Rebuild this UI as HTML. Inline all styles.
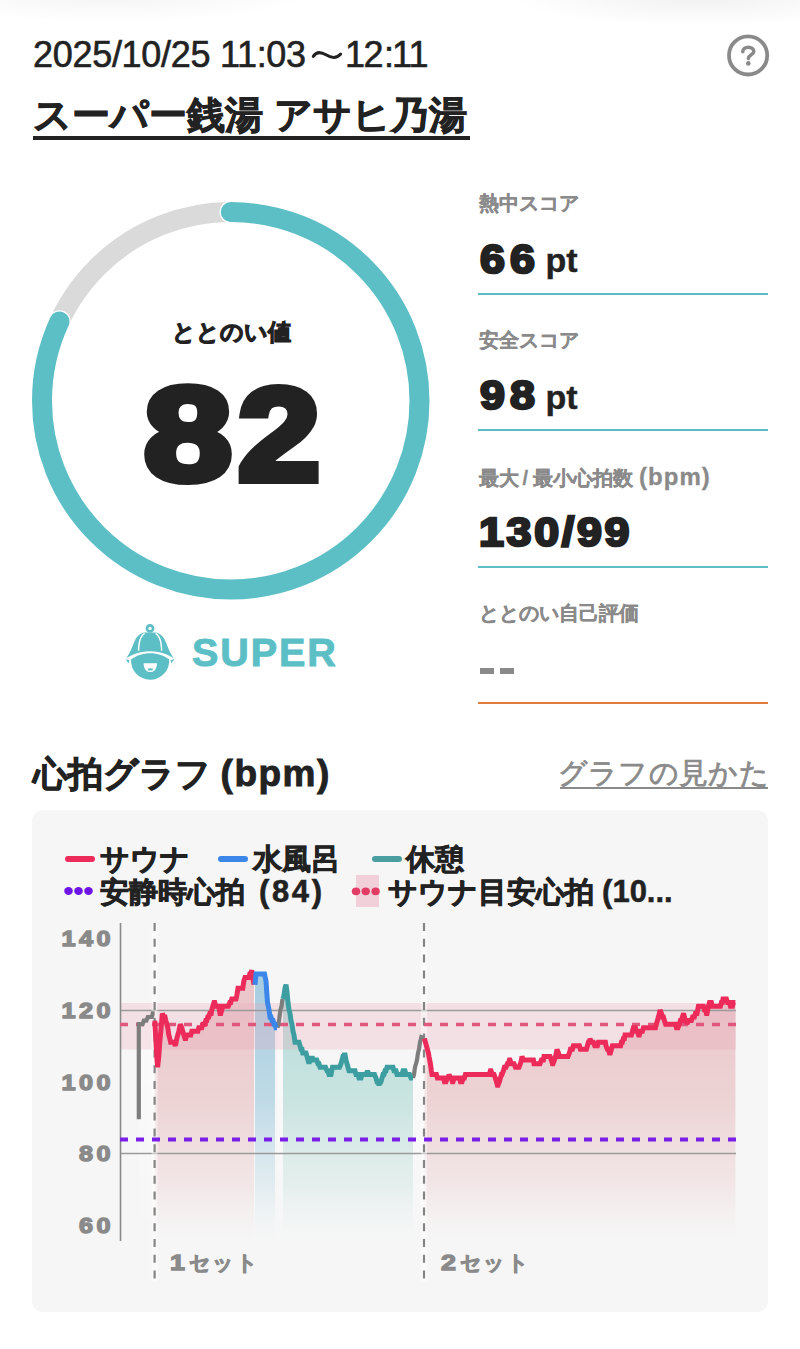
<!DOCTYPE html>
<html lang="ja">
<head>
<meta charset="utf-8">
<style>
*{margin:0;padding:0;box-sizing:border-box}
html,body{width:800px;height:1349px;background:#fff;overflow:hidden}
body{position:relative;font-family:"Liberation Sans",sans-serif;color:#222}
.a{position:absolute;white-space:nowrap}
#topshade{position:absolute;left:0;top:0;width:800px;height:60px;
 background:radial-gradient(ellipse 190px 28px at 700px -2px, rgba(0,0,0,0.055), rgba(0,0,0,0) 100%),
            radial-gradient(ellipse 200px 26px at 110px -4px, rgba(0,0,0,0.045), rgba(0,0,0,0) 100%);}
#date{left:33px;top:34px;font-size:36px;line-height:42px;color:#222;letter-spacing:-0.3px;-webkit-text-stroke:0.6px #222}
.d2{top:34px;font-size:36px;line-height:42px;color:#222;-webkit-text-stroke:0.6px #222}
#title{left:33px;top:92px;font-size:37.8px;line-height:46px;font-weight:bold;color:#222;-webkit-text-stroke:0.9px #222}
#uline{left:33px;top:136px;width:437px;height:4px;background:#222}
.lbl{left:479px;font-size:20px;line-height:24px;color:#8a8a8a;font-weight:bold;-webkit-text-stroke:0.3px #8a8a8a}
.hv{font-weight:bold;color:#222;line-height:1;transform-origin:0 0}
.val{left:480px;font-size:40px;-webkit-text-stroke:2.5px #222;transform:scaleX(1.12);letter-spacing:4.5px}
.pt{font-size:34px;font-weight:bold;line-height:1;color:#222;-webkit-text-stroke:0.4px #222}
.hr{left:478px;width:290px;height:2px;background:#5dbdc6}
#gh{left:33px;top:752px;font-size:34.5px;line-height:44px;font-weight:bold;color:#222;-webkit-text-stroke:0.9px #222}
#gh span{font-size:37px;letter-spacing:1.5px}
#gl{left:557.5px;top:755px;font-size:29.4px;letter-spacing:0.4px;line-height:36px;color:#8a8a8a;-webkit-text-stroke:0.8px #8a8a8a}
#glu{left:560px;top:787px;width:208px;height:2px;background:#8a8a8a}
#card{left:32px;top:810px;width:736px;height:502px;background:#f6f6f6;border-radius:11px}
.leg{font-size:29px;line-height:32px;font-weight:bold;color:#222;-webkit-text-stroke:0.8px #222}
.leg span{font-size:31px;-webkit-text-stroke:0.5px #222}
.yl{font-size:22.5px;line-height:1;font-weight:bold;color:#8a8a8a;-webkit-text-stroke:1.4px #8a8a8a;transform-origin:100% 0;transform:scaleX(1.12);text-align:right;width:70px;left:44px;letter-spacing:3.1px}
.xl{font-size:21px;line-height:24px;font-weight:bold;color:#8a8a8a;letter-spacing:1.2px;-webkit-text-stroke:0.8px #8a8a8a}
.xn{display:inline-block;font-size:22px;-webkit-text-stroke:1.3px #8a8a8a;transform:scaleX(1.22);transform-origin:0 0;margin-right:7.5px;letter-spacing:0}
</style>
</head>
<body>
<div id="topshade"></div>
<div class="a" id="date">2025/10/25 11:03</div><div class="a d2" style="left:345px">1</div><div class="a d2" style="left:363.4px">2</div><div class="a d2" style="left:384px">:</div><div class="a d2" style="left:392px">1</div><div class="a d2" style="left:408.5px">1</div>
<svg class="a" style="left:0;top:0" width="400" height="80"><path d="M313.3,56.4 C316,52 320,51.2 326,54.8 C332,58.6 336.5,58.8 340.7,54.1" fill="none" stroke="#222" stroke-width="3" stroke-linecap="round"/></svg>
<div class="a" id="title">スーパー銭湯 アサヒ乃湯</div>
<div class="a" id="uline"></div>
<svg class="a" style="left:0;top:0" width="800" height="720" viewBox="0 0 800 720">
 <circle cx="748.1" cy="55.4" r="19.1" fill="none" stroke="#8a8a8a" stroke-width="3.8"/>
 <path d="M742.8,51.8 C742.8,48.9 745.2,47.2 748.3,47.2 C751.5,47.2 753.8,49 753.8,51.5 C753.8,54.6 748.4,55 748.4,58.4" fill="none" stroke="#8a8a8a" stroke-width="3.5" stroke-linecap="round"/>
 <circle cx="748.3" cy="63.4" r="2.3" fill="#8a8a8a"/>
 <circle cx="230.75" cy="400.8" r="188.75" fill="none" stroke="#dadada" stroke-width="20"/>
 <circle cx="230.75" cy="400.8" r="188.75" fill="none" stroke="#fff" stroke-width="22.5" stroke-linecap="round"
   stroke-dasharray="971 2000" transform="rotate(-90 230.75 400.8)"/>
 <circle cx="230.75" cy="400.8" r="188.75" fill="none" stroke="#5cbfc6" stroke-width="20" stroke-linecap="round"
   stroke-dasharray="971 2000" transform="rotate(-90 230.75 400.8)"/>
</svg>
<div class="a" style="left:0;width:462px;text-align:center;top:318px;font-size:23px;line-height:28px;font-weight:bold;color:#222;-webkit-text-stroke:1.1px #222">ととのい値</div>
<div class="a hv" style="left:143.5px;top:369px;font-size:131.7px;-webkit-text-stroke:8px #222;transform:scaleX(1.2)">8</div>
<div class="a hv" style="left:238.1px;top:369px;font-size:131.7px;-webkit-text-stroke:8px #222;transform:scaleX(1.12)">2</div>
<!-- SUPER badge -->
<svg class="a" style="left:124px;top:622px" width="54" height="60" viewBox="0 0 54 60">
 <circle cx="26" cy="6.4" r="3.05" fill="none" stroke="#5cbfc6" stroke-width="2.7"/>
 <path d="M2.2,36.2 C5.5,32 7.8,26 9.8,21 C12,15.5 15.5,11 21,10.6 L31,10.6 C36.5,11 40,15.5 42.2,21 C44.2,26 46.5,32 49.8,36.2 C45,33.2 38,29.2 26.2,29.2 C14.5,29.2 7,33.2 2.2,36.2 Z" fill="#5cbfc6"/>
 <path d="M7,37.6 C12,33.6 19,31.2 26.2,31.2 C33.4,31.2 40.4,33.6 45.3,37.6 A19.2,19.2 0 0 1 26,57.7 A19.2,19.2 0 0 1 7,37.6 Z" fill="#5cbfc6"/>
 <path d="M1.6,37 L5.6,38.4 L4.4,41.2 Z M50.4,37 L46.4,38.4 L47.6,41.2 Z" fill="#5cbfc6"/>
 <path d="M20.6,11.4 C17.3,13.5 15.7,18 15.1,22 C14.7,25 14.6,27 14.6,28.8 M31.6,11.4 C34.9,13.5 36.5,18 37.1,22 C37.5,25 37.6,27 37.6,28.8" stroke="#fff" stroke-width="1.5" fill="none"/>
 <path d="M19.6,41.2 L33,41.2 C33,46.5 30.4,50 26.3,50 C22.2,50 19.6,46.5 19.6,41.2 Z" fill="#fff"/>
 <ellipse cx="26.3" cy="47.4" rx="2.7" ry="1.2" fill="#5cbfc6"/>
</svg>
<div class="a" style="left:192px;top:628px;font-size:39.5px;line-height:48px;font-weight:bold;color:#5cbfc6;-webkit-text-stroke:1px #5cbfc6;letter-spacing:1.9px">SUPER</div>

<!-- right column -->
<div class="a lbl" style="top:191px">熱中スコア</div>
<div class="a hv val" style="top:239px">66</div>
<div class="a pt" style="left:545.5px;top:243px">pt</div>
<div class="a hr" style="top:292.5px"></div>
<div class="a lbl" style="top:328px">安全スコア</div>
<div class="a hv val" style="top:375px">98</div>
<div class="a pt" style="left:545.5px;top:380px">pt</div>
<div class="a hr" style="top:429px"></div>
<div class="a lbl" style="top:465px">最大<span style="margin:0 5px 0 3.5px">/</span>最小心拍数<span style="font-size:24px;margin-left:6px;letter-spacing:1px">(bpm)</span></div>
<div class="a hv val" style="top:512px;left:479px;letter-spacing:2.4px">130/99</div>
<div class="a hr" style="top:565.5px"></div>
<div class="a lbl" style="top:601px">ととのい自己評価</div>
<div class="a" style="left:480px;top:668px;width:14px;height:6px;background:#8a8a8a"></div>
<div class="a" style="left:500px;top:668px;width:14px;height:6px;background:#8a8a8a"></div>
<div class="a hr" style="top:702px;background:#e07d3c"></div>

<!-- graph heading -->
<div class="a" id="gh">心拍グラフ <span>(bpm)</span></div>
<div class="a" id="gl">グラフの見かた</div>
<div class="a" id="glu"></div>

<div class="a" id="card"></div>

<!-- legend -->
<div class="a" style="left:64.5px;top:856px;width:30px;height:6px;border-radius:3px;background:#ec2b5b"></div>
<div class="a leg" style="left:100px;top:843px">サウナ</div>
<div class="a" style="left:217.5px;top:856px;width:30px;height:6px;border-radius:3px;background:#3b86e8"></div>
<div class="a leg" style="left:253px;top:843px">水風呂</div>
<div class="a" style="left:371.5px;top:856px;width:30px;height:6px;border-radius:3px;background:#4a9ea0"></div>
<div class="a leg" style="left:406px;top:843px">休憩</div>
<svg class="a" style="left:60px;top:884px" width="40" height="16"><g fill="#6e14e6"><ellipse cx="8.5" cy="7" rx="4.3" ry="4"/><ellipse cx="18.5" cy="7" rx="4.3" ry="4"/><ellipse cx="28.5" cy="7" rx="4.3" ry="4"/></g></svg>
<div class="a leg" style="left:100px;top:876px">安静時心拍 <span style="margin-left:6px;letter-spacing:2.6px">(84)</span></div>
<div class="a" style="left:356px;top:875px;width:23px;height:32px;background:#f2d0da"></div>
<svg class="a" style="left:348px;top:884px" width="40" height="16"><g fill="#e23c64"><ellipse cx="8" cy="7.3" rx="4.2" ry="3.9"/><ellipse cx="17.7" cy="7.3" rx="4.2" ry="3.9"/><ellipse cx="27.6" cy="7.3" rx="4.2" ry="3.9"/></g></svg>
<div class="a leg" style="left:388px;top:876px">サウナ目安心拍 <span>(10...</span></div>

<!-- y labels -->
<div class="a yl" style="top:928px">140</div>
<div class="a yl" style="top:999.8px">120</div>
<div class="a yl" style="top:1071.5px">100</div>
<div class="a yl" style="top:1143.3px">80</div>
<div class="a yl" style="top:1215px">60</div>
<div class="a xl" style="left:169.5px;top:1251px"><span class="xn">1</span>セット</div>
<div class="a xl" style="left:440.5px;top:1251px"><span class="xn">2</span>セット</div>

<svg class="a" style="left:0;top:0" width="800" height="1349" viewBox="0 0 800 1349">
 <defs>
  <linearGradient id="gr" x1="0" y1="960" x2="0" y2="1242" gradientUnits="userSpaceOnUse">
   <stop offset="0" stop-color="#e8b9be" stop-opacity="0.85"/>
   <stop offset="0.5" stop-color="#eac9cb" stop-opacity="0.78"/>
   <stop offset="0.8" stop-color="#eed6d8" stop-opacity="0.5"/>
   <stop offset="1" stop-color="#f3e6e7" stop-opacity="0"/>
  </linearGradient>
  <linearGradient id="gb" x1="0" y1="960" x2="0" y2="1242" gradientUnits="userSpaceOnUse">
   <stop offset="0" stop-color="#8fc0da" stop-opacity="0.8"/>
   <stop offset="0.5" stop-color="#a9cfe0" stop-opacity="0.72"/>
   <stop offset="0.8" stop-color="#c9e0ea" stop-opacity="0.45"/>
   <stop offset="1" stop-color="#dfeef5" stop-opacity="0"/>
  </linearGradient>
  <linearGradient id="gt" x1="0" y1="960" x2="0" y2="1242" gradientUnits="userSpaceOnUse">
   <stop offset="0" stop-color="#9fd3cf" stop-opacity="0.8"/>
   <stop offset="0.5" stop-color="#b8ddd9" stop-opacity="0.72"/>
   <stop offset="0.8" stop-color="#cfe6e3" stop-opacity="0.45"/>
   <stop offset="1" stop-color="#e4f1f0" stop-opacity="0"/>
  </linearGradient>
  <linearGradient id="gw" x1="0" y1="960" x2="0" y2="1242" gradientUnits="userSpaceOnUse">
   <stop offset="0" stop-color="#ffffff" stop-opacity="0.7"/>
   <stop offset="1" stop-color="#ffffff" stop-opacity="0"/>
  </linearGradient>
 </defs>
 <path d="M138.8,1240 L138.8,1119.3 L138.8,1119.3 L138.8,1025.5 L142.6,1023 L146.4,1019 L150,1016 L154.6,1014 L154.6,1014 L154.6,1240 Z" fill="url(#gw)"/>
 <path d="M277.5,1240 L277.5,1029 L277.5,1029 L282.5,999 L282.5,999 L282.5,1240 Z" fill="url(#gw)"/>
 <path d="M413,1240 L413,1078 L413,1078 L421.8,1034.7 L421.8,1034.7 L421.8,1240 Z" fill="url(#gw)"/>
 <path d="M154.8,1240 L154.8,1020.58 L154.8,1020.58 L155.8,1038.54 L156.8,1056.5 L157.6,1067.28 L158.8,1056.5 L159.8,1042.13 L160.8,1031.36 L162.4,1013.39 L163.8,1016.99 L165,1016.99 L165.8,1020.58 L166.8,1024.17 L167.8,1027.76 L168.8,1034.95 L169.8,1038.54 L170.6,1042.13 L173.8,1042.13 L175.4,1045.72 L176.8,1038.54 L177.8,1034.95 L178.8,1031.36 L180.3,1024.17 L181.8,1027.76 L182.8,1031.36 L183.8,1034.95 L185,1038.54 L185.8,1038.54 L186.8,1034.95 L190.8,1034.95 L191.8,1031.36 L197.8,1031.36 L198.8,1027.76 L201.8,1027.76 L202.8,1024.17 L204.8,1024.17 L205.8,1020.58 L206.8,1020.58 L207.8,1016.99 L208.8,1016.99 L209.8,1013.39 L211.2,1013.39 L211.8,1009.8 L212.8,1006.21 L214,1002.62 L214.8,1002.62 L215.8,1006.21 L218.8,1006.21 L220,1013.39 L220.8,1013.39 L221.8,1009.8 L222.9,1006.21 L228.4,1006.21 L229.8,1002.62 L230.8,1002.62 L231.8,999.02 L236,999.02 L236.8,995.43 L238,988.25 L242.8,988.25 L243.8,981.06 L245,977.47 L249,977.47 L249.8,973.88 L250.8,973.88 L251.8,970.28 L252.8,977.47 L254,984.65 L254,984.65 L254,1240 Z" fill="url(#gr)"/>
 <path d="M255,1240 L255,984.65 L255,984.65 L256,973.88 L264.5,973.88 L266,981.06 L267.5,1002.62 L269,1009.8 L270,1016.99 L271,1016.99 L272,1020.58 L273,1020.58 L274,1024.17 L275,1024.17 L276,1027.76 L277,1027.76 L275,1027.76 L275,1240 Z" fill="url(#gb)"/>
 <path d="M283,1240 L283,999.02 L283,999.02 L284,995.43 L285,988.25 L286,984.65 L287,991.84 L288,1002.62 L289,1009.8 L290,1013.39 L291,1020.58 L292,1024.17 L293,1031.36 L294,1034.95 L295,1042.13 L299,1042.13 L300,1045.72 L301,1049.32 L302,1049.32 L302.75,1052.91 L306,1052.91 L307,1056.5 L308,1060.1 L309,1063.69 L310,1060.1 L311,1060.1 L312,1056.5 L313,1060.1 L316.75,1060.1 L318,1063.69 L319,1063.69 L320,1067.28 L325.5,1067.28 L327,1070.87 L328,1070.87 L329,1074.46 L331,1074.46 L332.5,1067.28 L339.5,1067.28 L341,1063.69 L342,1060.1 L343,1056.5 L344,1056.5 L344.75,1052.91 L346,1060.1 L347,1063.69 L348,1067.28 L349,1070.87 L355,1070.87 L356,1074.46 L358,1074.46 L359,1078.06 L361,1078.06 L362,1074.46 L366,1074.46 L367.5,1070.87 L369,1074.46 L374.5,1074.46 L376,1078.06 L377,1081.65 L378,1081.65 L379,1085.24 L380,1081.65 L381,1081.65 L382,1078.06 L383,1074.46 L384,1074.46 L385,1070.87 L386,1070.87 L387,1067.28 L393,1067.28 L394,1070.87 L396,1070.87 L397,1074.46 L402,1074.46 L403,1070.87 L405,1070.87 L406,1074.46 L409.5,1074.46 L411,1078.06 L413,1078.06 L413,1078.06 L413,1240 Z" fill="url(#gt)"/>
 <path d="M424.4,1240 L424.4,1038.54 L424.4,1038.54 L425.4,1042.13 L426.4,1045.72 L427.4,1049.32 L428.4,1052.91 L429,1056.5 L430.4,1063.69 L431.4,1070.87 L432,1074.46 L436.4,1074.46 L437.4,1078.06 L443.4,1078.06 L444.4,1081.65 L446,1081.65 L447.4,1078.06 L448.4,1078.06 L449,1074.46 L450.4,1078.06 L451.4,1078.06 L452.4,1081.65 L453,1081.65 L454.4,1078.06 L459.4,1078.06 L460.4,1081.65 L462,1081.65 L463.4,1078.06 L464.4,1078.06 L465.4,1074.46 L489.4,1074.46 L490.4,1070.87 L491,1070.87 L492.4,1074.46 L494,1074.46 L495.4,1078.06 L496.4,1081.65 L497.4,1085.24 L498,1085.24 L499.4,1081.65 L500.4,1078.06 L501.4,1074.46 L502,1074.46 L503.4,1070.87 L504.4,1067.28 L506,1067.28 L507.4,1063.69 L508.4,1063.69 L509.4,1060.1 L510,1060.1 L511.4,1063.69 L514,1063.69 L515.4,1067.28 L519,1067.28 L520.4,1063.69 L521.4,1060.1 L522,1056.5 L523.4,1060.1 L533.4,1060.1 L534,1063.69 L540,1063.69 L541.4,1060.1 L543.4,1060.1 L544,1056.5 L550,1056.5 L551.4,1060.1 L552.4,1063.69 L553,1063.69 L554.4,1060.1 L555.4,1056.5 L556.4,1052.91 L557,1049.32 L558.4,1052.91 L559.4,1056.5 L568,1056.5 L569.4,1052.91 L570.4,1049.32 L572.4,1049.32 L573.4,1045.72 L579.4,1045.72 L580.4,1049.32 L586.4,1049.32 L587.4,1045.72 L588.4,1042.13 L589.4,1042.13 L590,1038.54 L591.4,1042.13 L593.4,1042.13 L594.75,1045.72 L597.4,1045.72 L598.4,1042.13 L605.4,1042.13 L606,1045.72 L607.4,1049.32 L608.4,1049.32 L609.4,1052.91 L610.4,1052.91 L611.4,1049.32 L612.4,1045.72 L620.6,1045.72 L621.4,1042.13 L622.4,1042.13 L623.4,1038.54 L624.4,1038.54 L625,1034.95 L631.4,1034.95 L632.4,1031.36 L633.4,1027.76 L635.4,1027.76 L636.4,1031.36 L637.4,1031.36 L638.6,1034.95 L639.4,1034.95 L640.4,1031.36 L642.4,1031.36 L643.4,1027.76 L655.5,1027.76 L656.4,1024.17 L657.4,1020.58 L658.4,1016.99 L659.4,1013.39 L660,1009.8 L661.4,1013.39 L662.4,1016.99 L663.4,1016.99 L664.4,1020.58 L665.6,1024.17 L675.4,1024.17 L676.4,1027.76 L678,1027.76 L679.4,1024.17 L680.4,1020.58 L681.4,1020.58 L682.4,1016.99 L683.6,1013.39 L684.4,1016.99 L685.4,1020.58 L686.4,1020.58 L687,1024.17 L688.4,1020.58 L691.4,1020.58 L692.6,1016.99 L694.4,1016.99 L695.4,1013.39 L697,1013.39 L698.4,1006.21 L703.4,1006.21 L704.4,1009.8 L705.4,1009.8 L706.4,1013.39 L707,1013.39 L708.4,1006.21 L709.5,1002.62 L711.4,1002.62 L712.4,1006.21 L720.4,1006.21 L721.4,1002.62 L722.4,1002.62 L723,999.02 L726.4,999.02 L727.5,1002.62 L729.4,1002.62 L730.4,1006.21 L732.4,1006.21 L733.4,1002.62 L735.4,1002.62 L735.4,1002.62 L735.4,1240 Z" fill="url(#gr)"/>
 <!-- band -->
 <rect x="121" y="1003" width="615" height="46.5" fill="#e6a0b4" fill-opacity="0.25"/>
 <!-- grid -->
 <line x1="121" y1="1010.5" x2="736" y2="1010.5" stroke="#9a9a9a" stroke-width="1.5"/>
 <line x1="121" y1="1153.5" x2="736" y2="1153.5" stroke="#9a9a9a" stroke-width="1.5"/>
 <line x1="120.5" y1="923" x2="120.5" y2="1241" stroke="#8a8a8a" stroke-width="1.6"/>
 <line x1="154.6" y1="923" x2="154.6" y2="1282" stroke="#fff" stroke-width="6" stroke-opacity="0.45"/>
 <line x1="424" y1="923" x2="424" y2="1282" stroke="#fff" stroke-width="6" stroke-opacity="0.45"/>
 <line x1="154.6" y1="923" x2="154.6" y2="1282" stroke="#858585" stroke-width="2.2" stroke-dasharray="8 7.8"/>
 <line x1="424" y1="923" x2="424" y2="1282" stroke="#858585" stroke-width="2.2" stroke-dasharray="8 7.8"/>
 <!-- threshold lines -->
 <line x1="120" y1="1024.5" x2="736" y2="1024.5" stroke="#e0567c" stroke-width="3.4" stroke-dasharray="8 8"/>
 <line x1="120" y1="1139.5" x2="736" y2="1139.5" stroke="#7a1ee8" stroke-width="4" stroke-dasharray="8 8"/>
 <!-- lines -->
 <g fill="none" stroke-width="5" stroke-linejoin="miter" stroke-miterlimit="2" stroke-linecap="butt">
  <polyline points="138.8,1119.3 138.8,1024.17 142.6,1024.17 143.8,1020.58 146.4,1020.58 147.8,1016.99 151.8,1016.99 152.8,1013.39 154.6,1013.39" stroke="#7d7d7d" stroke-width="4.2"/>
  <polyline points="277.5,1027.76 278.5,1024.17 279.5,1016.99 280.5,1009.8 281.5,1006.21 282.5,999.02" stroke="#7d7d7d" stroke-width="4.2"/>
  <polyline points="413,1078.06 414,1074.46 415,1067.28 416,1063.69 417,1060.1 418,1052.91 419,1049.32 420,1042.13 421,1038.54 421.8,1034.95" stroke="#7d7d7d" stroke-width="4.2"/>
  <polyline points="154.8,1020.58 155.8,1038.54 156.8,1056.5 157.6,1067.28 158.8,1056.5 159.8,1042.13 160.8,1031.36 162.4,1013.39 163.8,1016.99 165,1016.99 165.8,1020.58 166.8,1024.17 167.8,1027.76 168.8,1034.95 169.8,1038.54 170.6,1042.13 173.8,1042.13 175.4,1045.72 176.8,1038.54 177.8,1034.95 178.8,1031.36 180.3,1024.17 181.8,1027.76 182.8,1031.36 183.8,1034.95 185,1038.54 185.8,1038.54 186.8,1034.95 190.8,1034.95 191.8,1031.36 197.8,1031.36 198.8,1027.76 201.8,1027.76 202.8,1024.17 204.8,1024.17 205.8,1020.58 206.8,1020.58 207.8,1016.99 208.8,1016.99 209.8,1013.39 211.2,1013.39 211.8,1009.8 212.8,1006.21 214,1002.62 214.8,1002.62 215.8,1006.21 218.8,1006.21 220,1013.39 220.8,1013.39 221.8,1009.8 222.9,1006.21 228.4,1006.21 229.8,1002.62 230.8,1002.62 231.8,999.02 236,999.02 236.8,995.43 238,988.25 242.8,988.25 243.8,981.06 245,977.47 249,977.47 249.8,973.88 250.8,973.88 251.8,970.28 252.8,977.47 254,984.65" stroke="#ec2b5b"/>
  <polyline points="255,984.65 256,973.88 264.5,973.88 266,981.06 267.5,1002.62 269,1009.8 270,1016.99 271,1016.99 272,1020.58 273,1020.58 274,1024.17 275,1024.17 276,1027.76 277,1027.76" stroke="#3b86e8"/>
  <polyline points="283,999.02 284,995.43 285,988.25 286,984.65 287,991.84 288,1002.62 289,1009.8 290,1013.39 291,1020.58 292,1024.17 293,1031.36 294,1034.95 295,1042.13 299,1042.13 300,1045.72 301,1049.32 302,1049.32 302.75,1052.91 306,1052.91 307,1056.5 308,1060.1 309,1063.69 310,1060.1 311,1060.1 312,1056.5 313,1060.1 316.75,1060.1 318,1063.69 319,1063.69 320,1067.28 325.5,1067.28 327,1070.87 328,1070.87 329,1074.46 331,1074.46 332.5,1067.28 339.5,1067.28 341,1063.69 342,1060.1 343,1056.5 344,1056.5 344.75,1052.91 346,1060.1 347,1063.69 348,1067.28 349,1070.87 355,1070.87 356,1074.46 358,1074.46 359,1078.06 361,1078.06 362,1074.46 366,1074.46 367.5,1070.87 369,1074.46 374.5,1074.46 376,1078.06 377,1081.65 378,1081.65 379,1085.24 380,1081.65 381,1081.65 382,1078.06 383,1074.46 384,1074.46 385,1070.87 386,1070.87 387,1067.28 393,1067.28 394,1070.87 396,1070.87 397,1074.46 402,1074.46 403,1070.87 405,1070.87 406,1074.46 409.5,1074.46 411,1078.06 413,1078.06" stroke="#3d9ea1"/>
  <polyline points="424.4,1038.54 425.4,1042.13 426.4,1045.72 427.4,1049.32 428.4,1052.91 429,1056.5 430.4,1063.69 431.4,1070.87 432,1074.46 436.4,1074.46 437.4,1078.06 443.4,1078.06 444.4,1081.65 446,1081.65 447.4,1078.06 448.4,1078.06 449,1074.46 450.4,1078.06 451.4,1078.06 452.4,1081.65 453,1081.65 454.4,1078.06 459.4,1078.06 460.4,1081.65 462,1081.65 463.4,1078.06 464.4,1078.06 465.4,1074.46 489.4,1074.46 490.4,1070.87 491,1070.87 492.4,1074.46 494,1074.46 495.4,1078.06 496.4,1081.65 497.4,1085.24 498,1085.24 499.4,1081.65 500.4,1078.06 501.4,1074.46 502,1074.46 503.4,1070.87 504.4,1067.28 506,1067.28 507.4,1063.69 508.4,1063.69 509.4,1060.1 510,1060.1 511.4,1063.69 514,1063.69 515.4,1067.28 519,1067.28 520.4,1063.69 521.4,1060.1 522,1056.5 523.4,1060.1 533.4,1060.1 534,1063.69 540,1063.69 541.4,1060.1 543.4,1060.1 544,1056.5 550,1056.5 551.4,1060.1 552.4,1063.69 553,1063.69 554.4,1060.1 555.4,1056.5 556.4,1052.91 557,1049.32 558.4,1052.91 559.4,1056.5 568,1056.5 569.4,1052.91 570.4,1049.32 572.4,1049.32 573.4,1045.72 579.4,1045.72 580.4,1049.32 586.4,1049.32 587.4,1045.72 588.4,1042.13 589.4,1042.13 590,1038.54 591.4,1042.13 593.4,1042.13 594.75,1045.72 597.4,1045.72 598.4,1042.13 605.4,1042.13 606,1045.72 607.4,1049.32 608.4,1049.32 609.4,1052.91 610.4,1052.91 611.4,1049.32 612.4,1045.72 620.6,1045.72 621.4,1042.13 622.4,1042.13 623.4,1038.54 624.4,1038.54 625,1034.95 631.4,1034.95 632.4,1031.36 633.4,1027.76 635.4,1027.76 636.4,1031.36 637.4,1031.36 638.6,1034.95 639.4,1034.95 640.4,1031.36 642.4,1031.36 643.4,1027.76 655.5,1027.76 656.4,1024.17 657.4,1020.58 658.4,1016.99 659.4,1013.39 660,1009.8 661.4,1013.39 662.4,1016.99 663.4,1016.99 664.4,1020.58 665.6,1024.17 675.4,1024.17 676.4,1027.76 678,1027.76 679.4,1024.17 680.4,1020.58 681.4,1020.58 682.4,1016.99 683.6,1013.39 684.4,1016.99 685.4,1020.58 686.4,1020.58 687,1024.17 688.4,1020.58 691.4,1020.58 692.6,1016.99 694.4,1016.99 695.4,1013.39 697,1013.39 698.4,1006.21 703.4,1006.21 704.4,1009.8 705.4,1009.8 706.4,1013.39 707,1013.39 708.4,1006.21 709.5,1002.62 711.4,1002.62 712.4,1006.21 720.4,1006.21 721.4,1002.62 722.4,1002.62 723,999.02 726.4,999.02 727.5,1002.62 729.4,1002.62 730.4,1006.21 732.4,1006.21 733.4,1002.62 735.4,1002.62" stroke="#ec2b5b"/>
 </g>
</svg>
</body>
</html>
